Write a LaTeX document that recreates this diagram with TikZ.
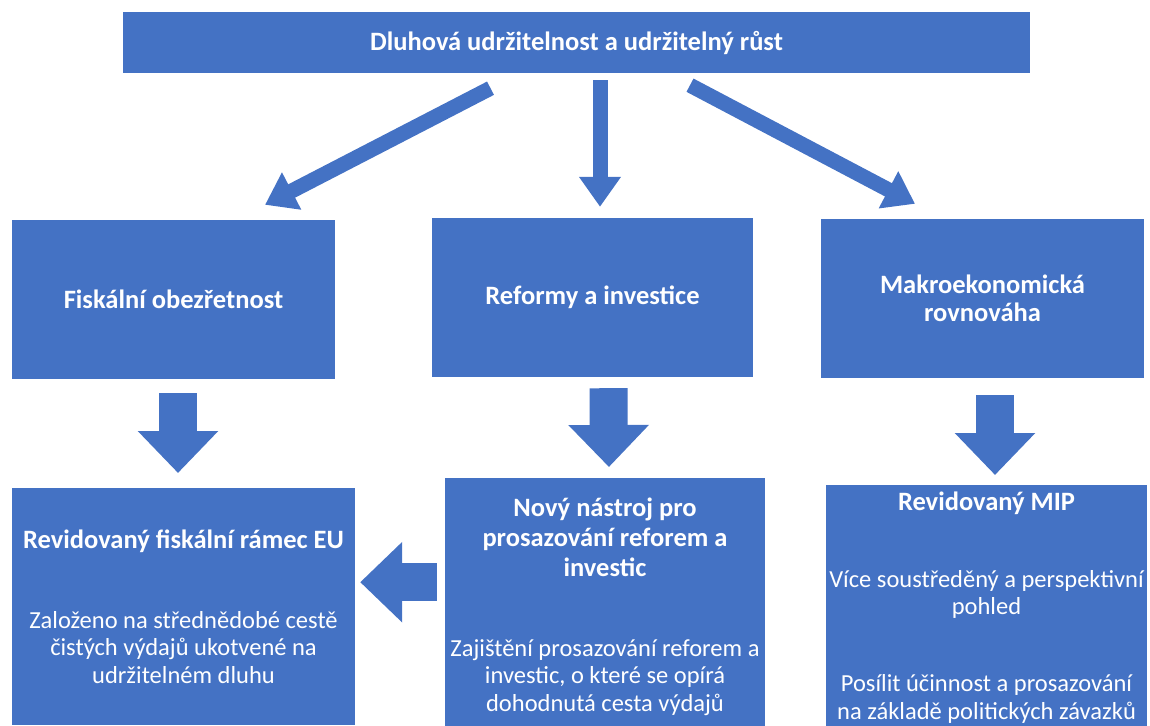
\documentclass[tikz,border=0pt]{standalone}
\usepackage{fontspec}
\setmainfont{Carlito}
\usepackage{xcolor}
\usepackage{tikz}
\usetikzlibrary{arrows.meta,positioning}
\definecolor{BoxBlue}{HTML}{4472C4}
\newcommand{\bodytext}{\fontsize{24.5}{27.5}\selectfont\mdseries}

\begin{document}
\begin{tikzpicture}[
    x=1pt, y=-1pt,
    box/.style={rectangle, fill=BoxBlue, text=white, inner sep=0pt, align=center, font=\fontsize{26.5}{30}\selectfont\bfseries},
    thinarrow/.style={draw=BoxBlue, line width=15pt, -{Triangle[width=40pt, length=30pt]}},
    blockarrow/.style={draw=BoxBlue, line width=38pt, -{Triangle[width=78pt, length=42pt]}}
]
\useasboundingbox (0,0) rectangle (1150,725);

\node[box, minimum width=907pt, minimum height=61pt] (top) at (576.5,42.5) {Dluhová udržitelnost a udržitelný růst};

\node[box, minimum width=323pt, minimum height=159pt] (fisk) at (173.5,299.5) {Fiskální obezřetnost};
\node[box, minimum width=321pt, minimum height=159pt] (reform) at (592.5,297.5) {Reformy a investice};
\node[box, minimum width=323pt, minimum height=159pt] (makro) at (982.5,298.5) {Makroekonomická\\[-2pt]rovnováha};

\node[box, anchor=north, minimum width=343pt, minimum height=237pt] (revfisk) at (183.5,488)
  {Revidovaný fiskální rámec EU\\[50pt]
   \bodytext Založeno na střednědobé cestě\\[-2.5pt]\bodytext čistých výdajů ukotvené na\\[-2.5pt]\bodytext udržitelném dluhu};
\node[box, anchor=north, minimum width=320pt, minimum height=257pt] (novy) at (605,478)
  {Nový nástroj pro\\prosazování reforem a\\investic\\[50pt]
   \bodytext Zajištění prosazování reforem a\\[-2.5pt]\bodytext investic, o které se opírá\\[-2.5pt]\bodytext dohodnutá cesta výdajů};
\node[box, anchor=north, minimum width=321pt, minimum height=244pt] (revmip) at (986.5,485)
  {Revidovaný MIP\\[47pt]
   \bodytext Více soustředěný a perspektivní\\[-2.5pt]\bodytext pohled\\[47pt]
   \bodytext Posílit účinnost a prosazování\\[-2.5pt]\bodytext na základě politických závazků};

% top level arrows
\draw[thinarrow] ([xshift=-86pt, yshift=-15pt]top.south) -- ([xshift=91.5pt, yshift=15pt]fisk.north);
\draw[thinarrow] ([xshift=23.5pt, yshift=-7pt]top.south) -- ([xshift=7.5pt, yshift=11pt]reform.north);
\draw[thinarrow] ([xshift=113.5pt, yshift=-12pt]top.south) -- ([xshift=-67.5pt, yshift=15pt]makro.north);

% block arrows
\draw[blockarrow, shorten <=14pt, shorten >=15pt] ([xshift=4.5pt]fisk.south) -- ([xshift=-5.5pt]revfisk.north);
\draw[blockarrow, shorten <=11pt, shorten >=11pt] ([xshift=16pt]reform.south) -- ([xshift=4pt]novy.north);
\draw[blockarrow, shorten <=17pt, shorten >=10pt] ([xshift=12.5pt]makro.south) -- ([xshift=8.5pt]revmip.north);
\draw[blockarrow, shorten <=8pt, shorten >=5pt] ([yshift=24.5pt]novy.west) -- ([yshift=24.5pt]revfisk.east);
\end{tikzpicture}
\end{document}
